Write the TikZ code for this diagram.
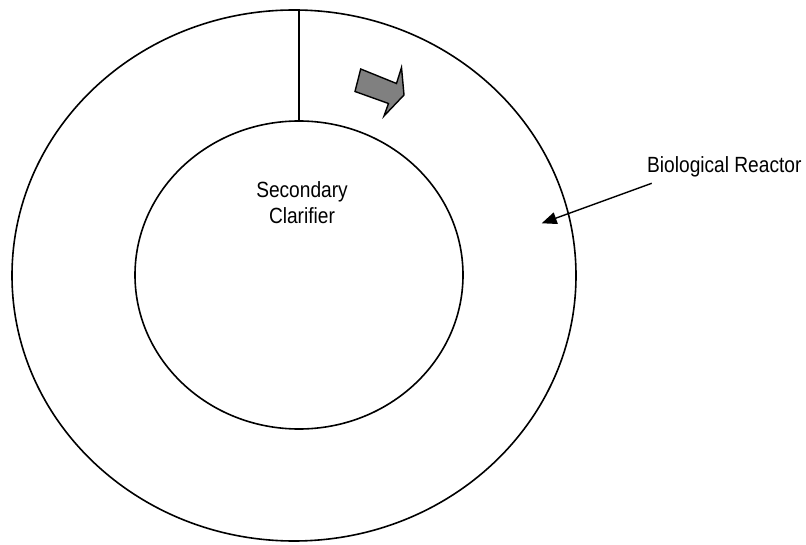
\documentclass[tikz,border=0pt]{standalone}
\usepackage{fontspec}
\setmainfont{Liberation Sans}[FakeStretch=0.87]
\usetikzlibrary{shapes.geometric,arrows.meta}
\begin{document}
\begin{tikzpicture}[x=1pt,y=-1pt,
  tank/.style={draw,ellipse,line width=1.6pt,inner sep=0pt},
  wall/.style={line width=1.6pt},
  label/.style={font=\fontsize{22}{26}\selectfont,inner sep=0pt},
  leader/.style={line width=1.4pt,-{Triangle[length=15pt,width=12pt]}},
  flow/.style={draw,line width=1.4pt,fill=gray,line join=miter}]
\useasboundingbox (0,0) rectangle (806,545);
% outer ring: biological reactor
\node[tank,minimum width=564pt,minimum height=531pt] (outer) at (294,275.5) {};
% inner tank: secondary clarifier
\node[tank,minimum width=328pt,minimum height=308pt] (inner) at (299,275) {};
% dividing wall across the ring
\draw[wall] (inner.north) -- (inner.north |- outer.north);
% flow direction marker
\draw[flow] (360.7,69) -- (396.5,83.5) -- (401.5,67.5) -- (404,95) -- (384,116)
  -- (388.5,103.5) -- (355,91.5) -- cycle;
% labels
\node[label,align=center] (clar) at (302,203) {Secondary\\Clarifier};
\node[label,anchor=base west] (bio) at (647,172.7) {Biological Reactor};
\coordinate (biostart) at (651.7,183.3);
\coordinate (biotip) at (541.7,223.3);
\draw[leader] (biostart) -- (biotip);
\end{tikzpicture}
\end{document}
